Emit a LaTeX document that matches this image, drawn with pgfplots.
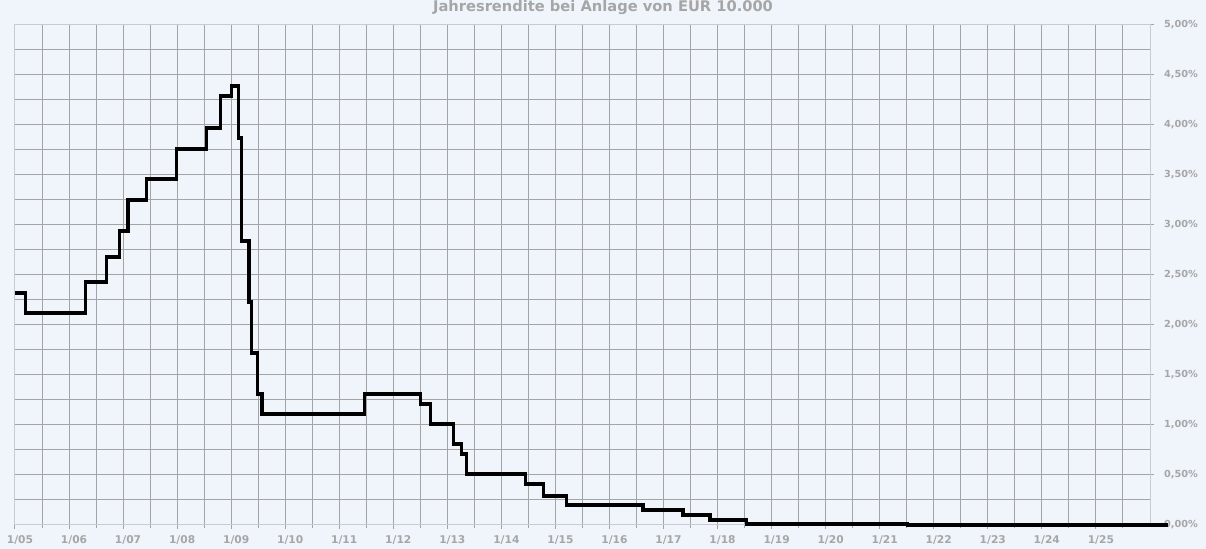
\documentclass[border=0pt]{standalone}
\usepackage{fontspec}
\setmainfont{DejaVu Sans}
\usepackage{pgfplots}
\pgfplotsset{compat=1.18}
\definecolor{bgblue}{HTML}{F0F5FC}
\definecolor{gridgray}{HTML}{A4A4A4}
\definecolor{bordergray}{HTML}{C8CCD2}
\definecolor{labelgray}{HTML}{A6A6A6}

\begin{document}
\begin{tikzpicture}
% background over the whole picture (1 px = 0.75pt)
\fill[bgblue] (-11.25pt,-18pt) rectangle (893.25pt,393.75pt);
\useasboundingbox (-11.25pt,-18pt) rectangle (893.25pt,393.75pt);

\begin{axis}[
    at={(0,0)}, anchor=south west,
    width=851.25pt, height=375pt,
    scale only axis,
    clip=false,
    axis background/.style={fill=bgblue},
    xmin=2005, xmax=2026,
    ymin=0, ymax=5,
    xtick={2005,...,2025},
    xticklabels={1/05,1/06,1/07,1/08,1/09,1/10,1/11,1/12,1/13,1/14,1/15,1/16,1/17,1/18,1/19,1/20,1/21,1/22,1/23,1/24,1/25},
    minor xtick={2005.5,2006.5,...,2025.5},
    ytick={0,0.5,...,5},
    yticklabels={{0,00\%},{0,50\%},{1,00\%},{1,50\%},{2,00\%},{2,50\%},{3,00\%},{3,50\%},{4,00\%},{4,50\%},{5,00\%}},
    minor ytick={0.25,0.75,...,4.75},
    grid=both,
    grid style={gridgray, line width=0.75pt},
    minor grid style={gridgray, line width=0.75pt},
    x axis line style={gridgray, line width=0.75pt},
    y axis line style={bordergray, line width=0.75pt},
    xtick pos=bottom, ytick pos=right,
    yticklabel pos=right,
    tick align=outside,
    major tick length=3pt, minor tick length=2.25pt,
    major tick style={gridgray, line width=0.75pt},
    minor x tick style={gridgray, line width=0.75pt},
    minor y tick style={draw=none},
    tick label style={font=\fontsize{8}{9}\selectfont\bfseries, text=labelgray},
    xticklabel style={anchor=north, xshift=3.75pt, yshift=-1.5pt},
    yticklabel style={anchor=west, xshift=4pt, font=\fontsize{7.3}{9}\selectfont\bfseries},
]
\addplot[const plot mark left, black, line width=2.4pt, line join=miter] coordinates {
(2005.00,2.32) (2005.20,2.12) (2006.30,2.43) (2006.70,2.68) (2006.93,2.94)
(2007.09,3.25) (2007.43,3.46) (2007.99,3.76) (2008.54,3.97) (2008.80,4.29)
(2009.00,4.39) (2009.135,3.87) (2009.19,2.84) (2009.33,2.23) (2009.38,1.72)
(2009.49,1.31) (2009.57,1.11) (2011.46,1.31) (2012.50,1.21) (2012.69,1.01)
(2013.12,0.81) (2013.26,0.71) (2013.35,0.51) (2014.44,0.41) (2014.78,0.29)
(2015.20,0.20) (2016.62,0.15) (2017.36,0.10) (2017.86,0.05) (2018.53,0.01)
(2021.52,0.00) (2026.33,0.00)
};
\end{axis}
\node[anchor=base, font=\fontsize{11}{13}\selectfont\bfseries, text=labelgray]
  at (441pt,384.75pt) {Jahresrendite bei Anlage von EUR 10.000};
\end{tikzpicture}
\end{document}
